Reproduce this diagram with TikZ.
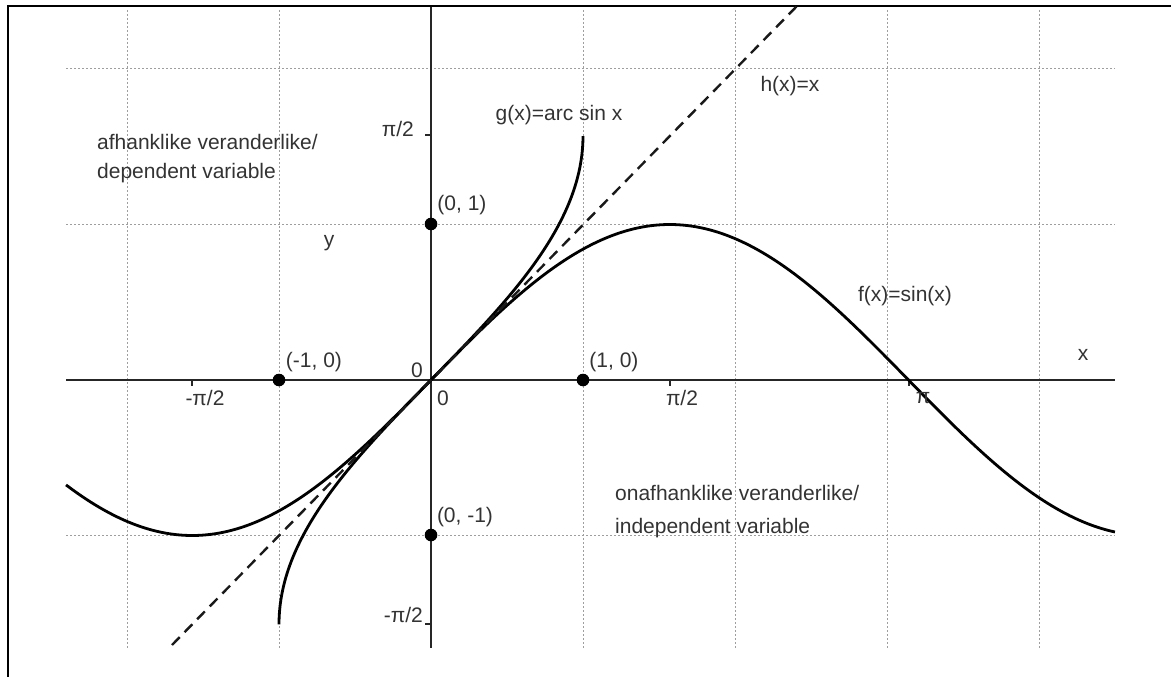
\documentclass[tikz,border=0pt]{standalone}
\usepackage{fontspec}
\setmainfont{Liberation Sans}
\begin{document}
\begin{tikzpicture}[x=1pt,y=-1pt,
  gridline/.style={draw=black!38, line width=1pt, dash pattern=on 2pt off 2pt},
  axisline/.style={draw=black!85, line width=1.6pt},
  curve/.style={draw=black, line width=2.8pt, line join=round},
  hline/.style={draw=black!90, line width=2.4pt, dash pattern=on 11pt off 7pt},
  lbl/.style={font=\fontsize{21}{25}\selectfont, text=black!80, inner sep=0pt},
  dot/.style={circle, fill=black, inner sep=0pt, minimum size=12.6pt},
  tickmark/.style={draw=black!85, line width=1.2pt}]
\useasboundingbox (0,0) rectangle (1171,677);
% frame
\draw[line width=2.2pt] (8,677) -- (8,6) -- (1171,6);
% grid
\foreach \gx in {127,279,583,735,887,1039} \draw[gridline] (\gx,10) -- (\gx,648);
\foreach \gy in {69,224,535} \draw[gridline] (66,\gy) -- (1115,\gy);
% axes
\coordinate (xl) at (66,380); \coordinate (xr) at (1115,380);
\coordinate (yt) at (431,7); \coordinate (yb) at (431,648);
\draw[axisline] (xl) -- (xr);
\draw[axisline] (yt) -- (yb);
% ticks
\foreach \tx in {192,670,909} \draw[tickmark] (\tx,380) -- (\tx,385.5);
\foreach \ty in {135,624} \draw[tickmark] (425,\ty) -- (431,\ty);
% curves
\draw[curve] plot[domain=-2.401:4.5, samples=220, smooth] ({431+152*\x},{380-155.5*sin(\x r)});
\draw[curve] plot[domain=-1.5708:1.5708, samples=160, smooth] ({431+152*sin(\x r)},{380-155.5*\x});
\coordinate (hA) at (172,645); \coordinate (hB) at (797,6);
\draw[hline] (hA) -- (hB);
% points
\node[dot] (p01) at (431,224) {};
\node[dot] (p0m1) at (431,535) {};
\node[dot] (pm10) at (279,380) {};
\node[dot] (p10) at (583,380) {};
% point labels
\node[lbl] (l01) at (462,205) {(0, 1)};
\node[lbl] (l0m1) at (465,517) {(0, -1)};
\node[lbl] (lm10) at (314,362) {(-1, 0)};
\node[lbl] (l10) at (614,362) {(1, 0)};
% axis labels
\node[lbl] (o1) at (417,370) {0};
\node[lbl] (o2) at (443,398) {0};
\node[lbl] (tmpi2) at (205,398) {-π/2};
\node[lbl] (tpi2) at (682,398) {π/2};
\node[lbl] (tpi) at (923,398) {π};
\node[lbl, anchor=east] (typi2) at (414,129) {π/2};
\node[lbl, anchor=east] (tympi2) at (423,615) {-π/2};
\node[lbl] (ylab) at (329,243) {y};
\node[lbl] (xlab) at (1083,355) {x};
% function labels
\node[lbl] (gl) at (559,115) {g(x)=arc sin x};
\node[lbl] (hl) at (790,86) {h(x)=x};
\node[lbl] (fl) at (905,296) {f(x)=sin(x)};
% texts
\node[lbl, anchor=base west] (dep1) at (97,149) {afhanklike veranderlike/};
\node[lbl, anchor=base west] (dep2) at (97,178) {dependent variable};
\node[lbl, anchor=base west] (ind1) at (615,500) {onafhanklike veranderlike/};
\node[lbl, anchor=base west] (ind2) at (615,533) {independent variable};
\end{tikzpicture}
\end{document}
